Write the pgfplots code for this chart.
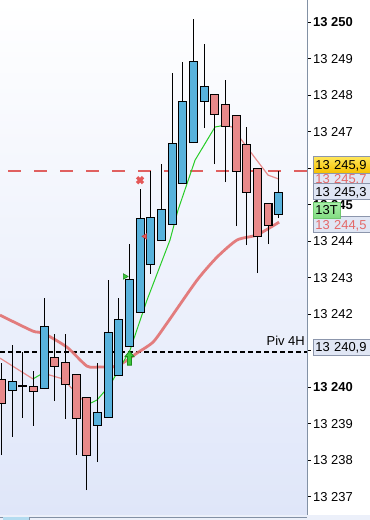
\documentclass[border=0pt]{standalone}
\usepackage{pgfplots}
\pgfplotsset{compat=1.18}
\usepackage{pgfplotstable}
\usepackage{fontspec}
\setmainfont{Liberation Sans}

\definecolor{bullc}{RGB}{88,178,220}
\definecolor{bearc}{RGB}{232,137,138}
\definecolor{maslow}{RGB}{226,112,112}
\definecolor{mapink}{RGB}{232,140,140}
\definecolor{magreen}{RGB}{40,205,40}
\definecolor{axgray}{RGB}{130,145,165}
\definecolor{boxfill}{RGB}{224,230,244}
\definecolor{boxdraw}{RGB}{140,150,172}
\definecolor{bgbottom}{RGB}{223,230,249}
\definecolor{pinktxt}{RGB}{228,105,105}
\definecolor{reddash}{RGB}{224,96,96}
\definecolor{sigred}{RGB}{228,88,88}
\definecolor{sigreddk}{RGB}{190,60,60}
\definecolor{siggreen}{RGB}{60,200,60}
\definecolor{siggreendk}{RGB}{30,140,30}
\definecolor{goldtop}{RGB}{255,230,90}
\definecolor{goldbot}{RGB}{246,192,0}
\definecolor{greentop}{RGB}{170,240,170}
\definecolor{greenbot}{RGB}{130,220,130}
\definecolor{greendraw}{RGB}{110,200,110}
\definecolor{stripbg}{RGB}{236,240,250}
\definecolor{stripbtn}{RGB}{180,220,240}

\pgfdeclareplotmark{uparr}{%
  \pgfpathmoveto{\pgfqpoint{0bp}{7bp}}%
  \pgfpathlineto{\pgfqpoint{4.5bp}{1.5bp}}%
  \pgfpathlineto{\pgfqpoint{2bp}{1.5bp}}%
  \pgfpathlineto{\pgfqpoint{2bp}{-7bp}}%
  \pgfpathlineto{\pgfqpoint{-2bp}{-7bp}}%
  \pgfpathlineto{\pgfqpoint{-2bp}{1.5bp}}%
  \pgfpathlineto{\pgfqpoint{-4.5bp}{1.5bp}}%
  \pgfpathclose
  \pgfusepathqfillstroke}

% bullish candles (and the doji): x open high low close
\pgfplotstableread{
x o h l c
1 13239.90 13241.16 13238.64 13240.17
2 13240.00 13240.97 13239.16 13240.06
4 13239.95 13242.45 13239.95 13241.68
9 13238.94 13240.67 13237.95 13239.32
10 13239.16 13242.94 13239.16 13241.52
11 13240.31 13242.45 13240.31 13241.87
12 13241.10 13243.93 13241.10 13242.97
13 13242.04 13245.44 13242.04 13244.64
14 13243.35 13245.94 13243.11 13244.67
15 13244.01 13246.12 13244.01 13244.89
16 13244.45 13248.62 13244.45 13246.70
17 13245.58 13248.92 13245.58 13247.85
18 13246.70 13250.10 13246.70 13248.95
19 13247.83 13249.42 13247.11 13248.26
26 13244.73 13245.94 13244.64 13245.36
}\bull

% bearish candles: x open high low close
\pgfplotstableread{
x o h l c
0 13240.23 13240.67 13238.14 13239.54
3 13240.04 13240.45 13238.94 13239.87
5 13240.83 13241.46 13239.62 13240.56
6 13240.69 13241.46 13239.13 13240.06
7 13240.37 13240.37 13238.14 13239.13
8 13239.73 13239.73 13237.18 13238.12
20 13248.04 13248.04 13246.12 13247.47
21 13247.77 13248.43 13245.63 13247.14
22 13247.47 13247.47 13244.42 13245.91
23 13246.67 13247.14 13243.90 13245.33
24 13246.01 13246.01 13243.13 13244.12
25 13245.06 13245.06 13243.93 13244.42
}\bear

\begin{document}
\begin{tikzpicture}
\useasboundingbox (0,0) rectangle (370bp,520bp);
\fill[white] (0,0) rectangle (370bp,520bp);
\begin{axis}[
  at={(0bp,5bp)}, anchor=south west,
  scale only axis, width=307bp, height=515bp,
  xmin=-0.145, xmax=28.65, ymin=13236.498, ymax=13250.623,
  axis y line=right, axis x line=bottom,
  axis line style={axgray, line width=1bp, -},
  x axis line style={-}, y axis line style={-},
  xtick=\empty,
  scaled y ticks=false,
  ytick={13237,13238,...,13250},
  yticklabels={13 237,13 238,13 239,\textbf{13 240},13 241,13 242,13 243,13 244,\textbf{13 245},13 246,13 247,13 248,13 249,\textbf{13 250}},
  tick align=outside, major tick length=4bp,
  tick style={black, line width=0.7bp},
  yticklabel style={font=\fontsize{13}{15}\selectfont, anchor=west, inner sep=0pt, xshift=2bp},
  clip mode=individual,
  axis background/.style={top color=white, bottom color=bgbottom},
  candle/.style={forget plot, only marks, mark options={draw opacity=0, fill opacity=0}},
]
% reference lines
\addplot[forget plot, black, line width=2bp, dash pattern=on 5bp off 3bp] coordinates {(-0.145,13240.96) (28.65,13240.96)};
\addplot[forget plot, reddash, line width=2.6bp, dash pattern=on 13bp off 13bp, dash phase=18bp] coordinates {(-0.145,13245.93) (28.65,13245.93)};
% slow moving average
\addplot[forget plot, maslow, opacity=0.9, line width=2.8bp, smooth, tension=0.4] coordinates {
(-0.145,13241.98) (2.95,13241.54) (3.89,13241.49) (6.14,13241.10) (8.02,13240.58) (9.24,13240.56) (10.45,13240.56) (11.39,13240.67) (12.71,13240.94) (14.21,13241.24) (15.52,13241.76) (18.34,13242.94) (20.21,13243.57) (22.09,13244.04) (23.96,13244.18) (26.03,13244.53)};
% fast moving average (pink falling, green rising)
\addplot[forget plot, mapink, line width=1.2bp] coordinates {(-0.145,13240.80) (2.95,13240.23)};
\addplot[forget plot, magreen, line width=1bp] coordinates {(2.95,13240.23) (3.89,13240.39)};
\addplot[forget plot, mapink, line width=1.2bp] coordinates {(3.89,13240.39) (5.76,13240.23) (7.36,13239.73) (8.02,13239.52)};
\addplot[forget plot, magreen, line width=1bp] coordinates {(8.02,13239.52) (8.95,13239.65) (10.17,13240.06) (12.05,13241.02) (13.64,13242.39) (15.80,13244.04) (16.55,13244.86) (18.15,13246.23) (20.02,13247.14) (20.96,13247.19)};
\addplot[forget plot, mapink, line width=1.2bp] coordinates {(20.96,13247.19) (21.62,13247.14) (22.37,13246.84) (23.78,13246.29) (25.00,13245.82) (26.03,13245.71)};
% wicks
\addplot[candle, error bars/.cd, y dir=plus, y explicit, error mark=none, error bar style={black, line width=1.1bp}]
  table[x=x, y=l, y error plus expr=\thisrow{h}-\thisrow{l}] {\bull};
\addplot[candle, error bars/.cd, y dir=plus, y explicit, error mark=none, error bar style={black, line width=1.1bp}]
  table[x=x, y=l, y error plus expr=\thisrow{h}-\thisrow{l}] {\bear};
% bodies: outline pass
\addplot[candle, error bars/.cd, y dir=plus, y explicit, error mark=none, error bar style={black, line width=9bp}]
  table[x=x, y expr={min(\thisrow{o},\thisrow{c})}, y error plus expr={abs(\thisrow{c}-\thisrow{o})}] {\bull};
\addplot[candle, error bars/.cd, y dir=plus, y explicit, error mark=none, error bar style={black, line width=9bp}]
  table[x=x, y expr={min(\thisrow{o},\thisrow{c})}, y error plus expr={abs(\thisrow{c}-\thisrow{o})}] {\bear};
% bodies: fill pass
\addplot[candle, error bars/.cd, y dir=plus, y explicit, error mark=none, error bar style={bullc, line width=6.8bp}]
  table[x=x, y expr={min(\thisrow{o},\thisrow{c})+0.03}, y error plus expr={abs(\thisrow{c}-\thisrow{o})-0.06}] {\bull};
\addplot[candle, error bars/.cd, y dir=plus, y explicit, error mark=none, error bar style={bearc, line width=6.8bp}]
  table[x=x, y expr={min(\thisrow{o},\thisrow{c})+0.03}, y error plus expr={abs(\thisrow{c}-\thisrow{o})-0.06}] {\bear};
% signals
\addplot[forget plot, only marks, mark=uparr, mark options={fill=siggreen, draw=siggreendk, line width=0.8bp}] coordinates {(12.0,13240.80)};
\addplot[forget plot, only marks, mark=triangle*, mark size=3.2bp, mark options={rotate=-90, fill=siggreen, draw=siggreendk, line width=0.5bp}] coordinates {(11.58,13243.04)};
\addplot[forget plot, only marks, mark=triangle*, mark size=3.2bp, mark options={rotate=90, fill=sigred, draw=sigreddk, line width=0.5bp}] coordinates {(13.46,13244.14)};
\addplot[forget plot, only marks, mark=x, mark size=4.2bp, mark options={sigred, line width=3.2bp}] coordinates {(12.99,13245.68)};
% annotations
\node[anchor=base east, font=\fontsize{13}{15}\selectfont, inner sep=0pt] at (axis cs:28.46,13240.96) [yshift=6.5bp] {Piv 4H};
\tikzset{lbl/.style={draw=boxdraw, fill=boxfill, line width=0.8bp, anchor=west, inner xsep=2bp, inner ysep=0pt, minimum height=16.5bp, text width=56bp, text height=9.4bp, text depth=0bp, font=\fontsize{13}{15}\selectfont}}
\node[lbl] at (axis cs:28.65,13241.10) [xshift=6bp] {13 240,9};
\node[lbl, text=pinktxt] at (axis cs:28.65,13245.73) [xshift=6bp] {13 245,7};
\node[lbl, top color=goldtop, bottom color=goldbot] at (axis cs:28.65,13246.10) [xshift=6bp] {13 245,9};
\node[lbl] at (axis cs:28.65,13245.37) [xshift=6bp] {13 245,3};
\node[lbl, text=pinktxt] at (axis cs:28.65,13244.47) [xshift=6bp] {13 244,5};
\node[lbl, text width=23bp, draw=greendraw, top color=greentop, bottom color=greenbot, minimum height=16bp] at (axis cs:28.65,13244.86) [xshift=6bp] {13T};
\end{axis}
\fill[stripbg] (0,0) rectangle (370bp,4.5bp);
\draw[axgray, line width=0.6bp] (0,3bp) -- (307bp,3bp);
\fill[stripbtn] (3bp,0) rectangle (29bp,2.7bp);
\draw[axgray, line width=0.6bp] (29bp,0) -- (29bp,3bp);
\end{tikzpicture}
\end{document}
